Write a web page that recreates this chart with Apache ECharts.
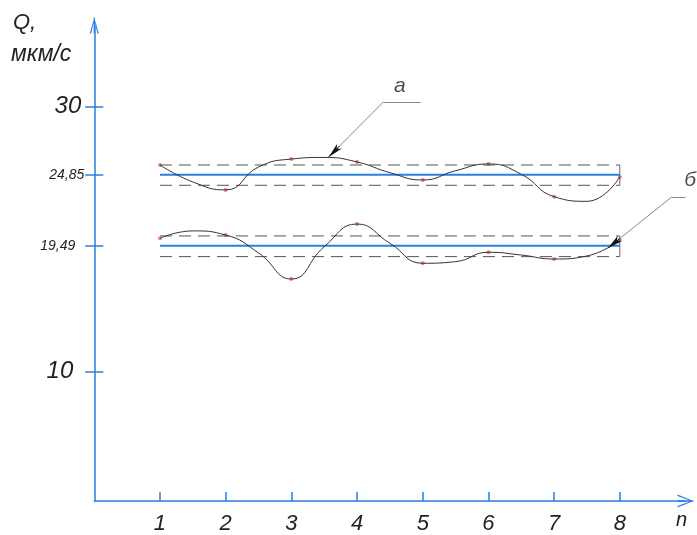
<!DOCTYPE html>
<html>
<head>
<meta charset="utf-8">
<script src="https://cdn.jsdelivr.net/npm/echarts@6/dist/echarts.min.js"></script>
<style>
html,body{margin:0;padding:0;background:#fff;}
#chart{width:697px;height:535px;}
</style>
</head>
<body>
<div id="chart"></div>
<script>
// ---- data ----
const nPos = [1, 2, 3, 4, 5, 6, 7, 8];
const aVals = [25.58, 23.70, 26.03, 25.81, 24.45, 25.66, 23.19, 24.68];
const aMidPos = [1.5, 2.5, 3.5, 4.5, 5.5, 6.5, 7.5];
const aMid = [24.30, 25.43, 26.15, 25.00, 25.15, 24.88, 22.84];
const bVals = [20.05, 20.30, 16.98, 21.13, 18.17, 19.00, 18.49, 19.93];
const bMid = [20.61, 18.95, 19.42, 19.68, 18.29, 18.79, 18.72];
const aMean = 24.85, aUpper = 25.58, aLower = 24.05;
const bMean = 19.49, bUpper = 20.23, bLower = 18.67;
const yTickValues = [10, 19.49, 24.85, 30];
const yTickLabels = ['10', '19,49', '24,85', '30'];
const xTickLabels = ['1', '2', '3', '4', '5', '6', '7', '8'];
const yTitle1 = 'Q,';
const yTitle2 = 'мкм/с';
const xTitle = 'n';
const labelA = 'а';
const labelB = 'б';
// annotation leader lines (data coordinates): shelf, leader start, arrow-head start, tip
const leaderA = {shelf: [[4.40, 30.33], [4.97, 30.33]], path: [[4.40, 30.33], [3.73, 26.99], [3.57, 26.19]], text: [4.65, 31.5]};
const leaderB = {shelf: [[8.79, 23.17], [9.0, 23.17]], path: [[8.79, 23.17], [8.00, 20.03], [7.82, 19.32]], text: [9.07, 24.4]};

// ---- styling ----
const BLUE = '#2a7fe2';
const FONT = 'Liberation Sans';
function arrowPath(w, h) {
  const c = w / 2, t = 1.4, s = 0.65;
  return 'path://M' + c + ',0 L' + w + ',' + h + ' L' + (w - t) + ',' + h + ' L' + c + ',2.5 L' + t + ',' + h +
    ' L0,' + h + ' Z M' + (c - s) + ',0 L' + (c + s) + ',0 L' + (c + s) + ',' + h + ' L' + (c - s) + ',' + h + ' Z';
}

function interleave(vals, mids) {
  const out = [];
  for (let i = 0; i < vals.length; i++) {
    out.push([nPos[i], vals[i]]);
    if (i < mids.length) out.push([aMidPos[i], mids[i]]);
  }
  return out;
}
function band(mean, up, lo) {
  return [
    {type: 'line', data: [[nPos[0], up], [nPos[7], up]], symbol: 'none', silent: true,
     lineStyle: {color: '#555', width: 1, type: [12, 7]}},
    {type: 'line', data: [[nPos[0], lo], [nPos[7], lo]], symbol: 'none', silent: true,
     lineStyle: {color: '#555', width: 1, type: [12, 7]}},
    {type: 'line', data: [[nPos[7], up], [nPos[7], lo]], symbol: 'none', silent: true,
     lineStyle: {color: '#666', width: 1}},
    {type: 'line', data: [[nPos[0], mean], [nPos[7], mean]], symbol: 'none', silent: true,
     lineStyle: {color: BLUE, width: 2}}
  ];
}
function leader(l) {
  return [
    [{coord: l.shelf[0], symbol: 'none'}, {coord: l.shelf[1], symbol: 'none'}],
    [{coord: l.path[0], symbol: 'none'}, {coord: l.path[2], symbol: 'none'}],
    [{coord: l.path[1], symbol: 'none', lineStyle: {color: '#111', width: 1}},
     {coord: l.path[2], symbol: 'arrow', symbolSize: [5, 15], lineStyle: {color: '#111', width: 1}}]
  ];
}

const richY = {
  r10: {fontSize: 24, fontStyle: 'italic', fontFamily: FONT, color: '#222', padding: [0, 11, 0, 0]},
  r30: {fontSize: 24, fontStyle: 'italic', fontFamily: FONT, color: '#222', padding: [0, 3, 0, 0]},
  r1949: {fontSize: 14, fontStyle: 'italic', fontFamily: FONT, color: '#222', padding: [0, 9, 0, 0]},
  r2485: {fontSize: 14, fontStyle: 'italic', fontFamily: FONT, color: '#222', padding: [0, 0, 0, 0]}
};
const richKeys = ['r10', 'r1949', 'r2485', 'r30'];

const chart = echarts.init(document.getElementById('chart'));
chart.setOption({
  animation: false,
  backgroundColor: '#fff',
  grid: {left: 94.3, right: 11.5, top: 25.5, bottom: 34},
  xAxis: {
    type: 'value', min: 0, max: 9.0, interval: 1,
    axisLine: {lineStyle: {color: BLUE, width: 1.5}, symbol: ['none', arrowPath(13, 16)], symbolSize: [13, 16]},
    axisTick: {inside: true, length: 9, lineStyle: {color: BLUE, width: 1.5}, customValues: nPos},
    axisLabel: {customValues: nPos, margin: 12, fontSize: 22, fontStyle: 'italic', fontFamily: FONT, color: '#222',
      formatter: v => xTickLabels[nPos.indexOf(v)] || ''},
    splitLine: {show: false}
  },
  yAxis: [{
    type: 'value', min: 0.24, max: 36.1,
    axisLine: {show: true, lineStyle: {color: BLUE, width: 1.5}, symbol: ['none', arrowPath(9, 16)], symbolSize: [9, 16]},
    axisTick: {show: true, inside: false, length: 9, lineStyle: {color: BLUE, width: 1.5}, customValues: yTickValues},
    axisLabel: {customValues: yTickValues, margin: 10, rich: richY,
      formatter: v => {
        const i = yTickValues.indexOf(v);
        return i < 0 ? '' : '{' + richKeys[i] + '|' + yTickLabels[i] + '}';
      }},
    splitLine: {show: false}
  }, {
    type: 'value', min: 0.24, max: 36.1, position: 'left',
    axisLine: {show: false},
    axisTick: {show: true, inside: true, length: 9, lineStyle: {color: BLUE, width: 1.5}, customValues: yTickValues},
    axisLabel: {show: false},
    splitLine: {show: false}
  }],
  graphic: [
    {type: 'text', left: 13, top: 12, style: {text: yTitle1, font: 'italic 22px "Liberation Sans"', fill: '#222'}},
    {type: 'text', left: 11, top: 43, style: {text: yTitle2, font: 'italic 23px "Liberation Sans"', fill: '#222'}},
    {type: 'text', left: 676, top: 510, style: {text: xTitle, font: 'italic 20px "Liberation Sans"', fill: '#222'}}
  ],
  series: [
    ...band(aMean, aUpper, aLower),
    ...band(bMean, bUpper, bLower),
    {type: 'line', data: interleave(aVals, aMid), smooth: true, symbol: 'none', silent: true,
     lineStyle: {color: '#333', width: 1}},
    {type: 'line', data: interleave(bVals, bMid), smooth: true, symbol: 'none', silent: true,
     lineStyle: {color: '#333', width: 1}},
    {type: 'scatter', data: nPos.map((n, i) => [n, aVals[i]]), symbolSize: 4, itemStyle: {color: '#e26868'}, silent: true},
    {type: 'scatter', data: nPos.map((n, i) => [n, bVals[i]]), symbolSize: 4, itemStyle: {color: '#e26868'}, silent: true},
    {type: 'line', data: [], silent: true,
     markLine: {silent: true, symbol: 'none', label: {show: false}, animation: false,
       lineStyle: {color: '#888', width: 1, type: 'solid'},
       data: [...leader(leaderA), ...leader(leaderB)]}},
    {type: 'scatter', clip: false, symbolSize: 0, silent: true,
     data: [{value: leaderA.text, name: labelA}, {value: leaderB.text, name: labelB}],
     label: {show: true, position: 'inside', formatter: p => p.name, fontSize: 21, fontStyle: 'italic',
       fontFamily: FONT, color: '#222'}}
  ]
});
</script>
</body>
</html>
